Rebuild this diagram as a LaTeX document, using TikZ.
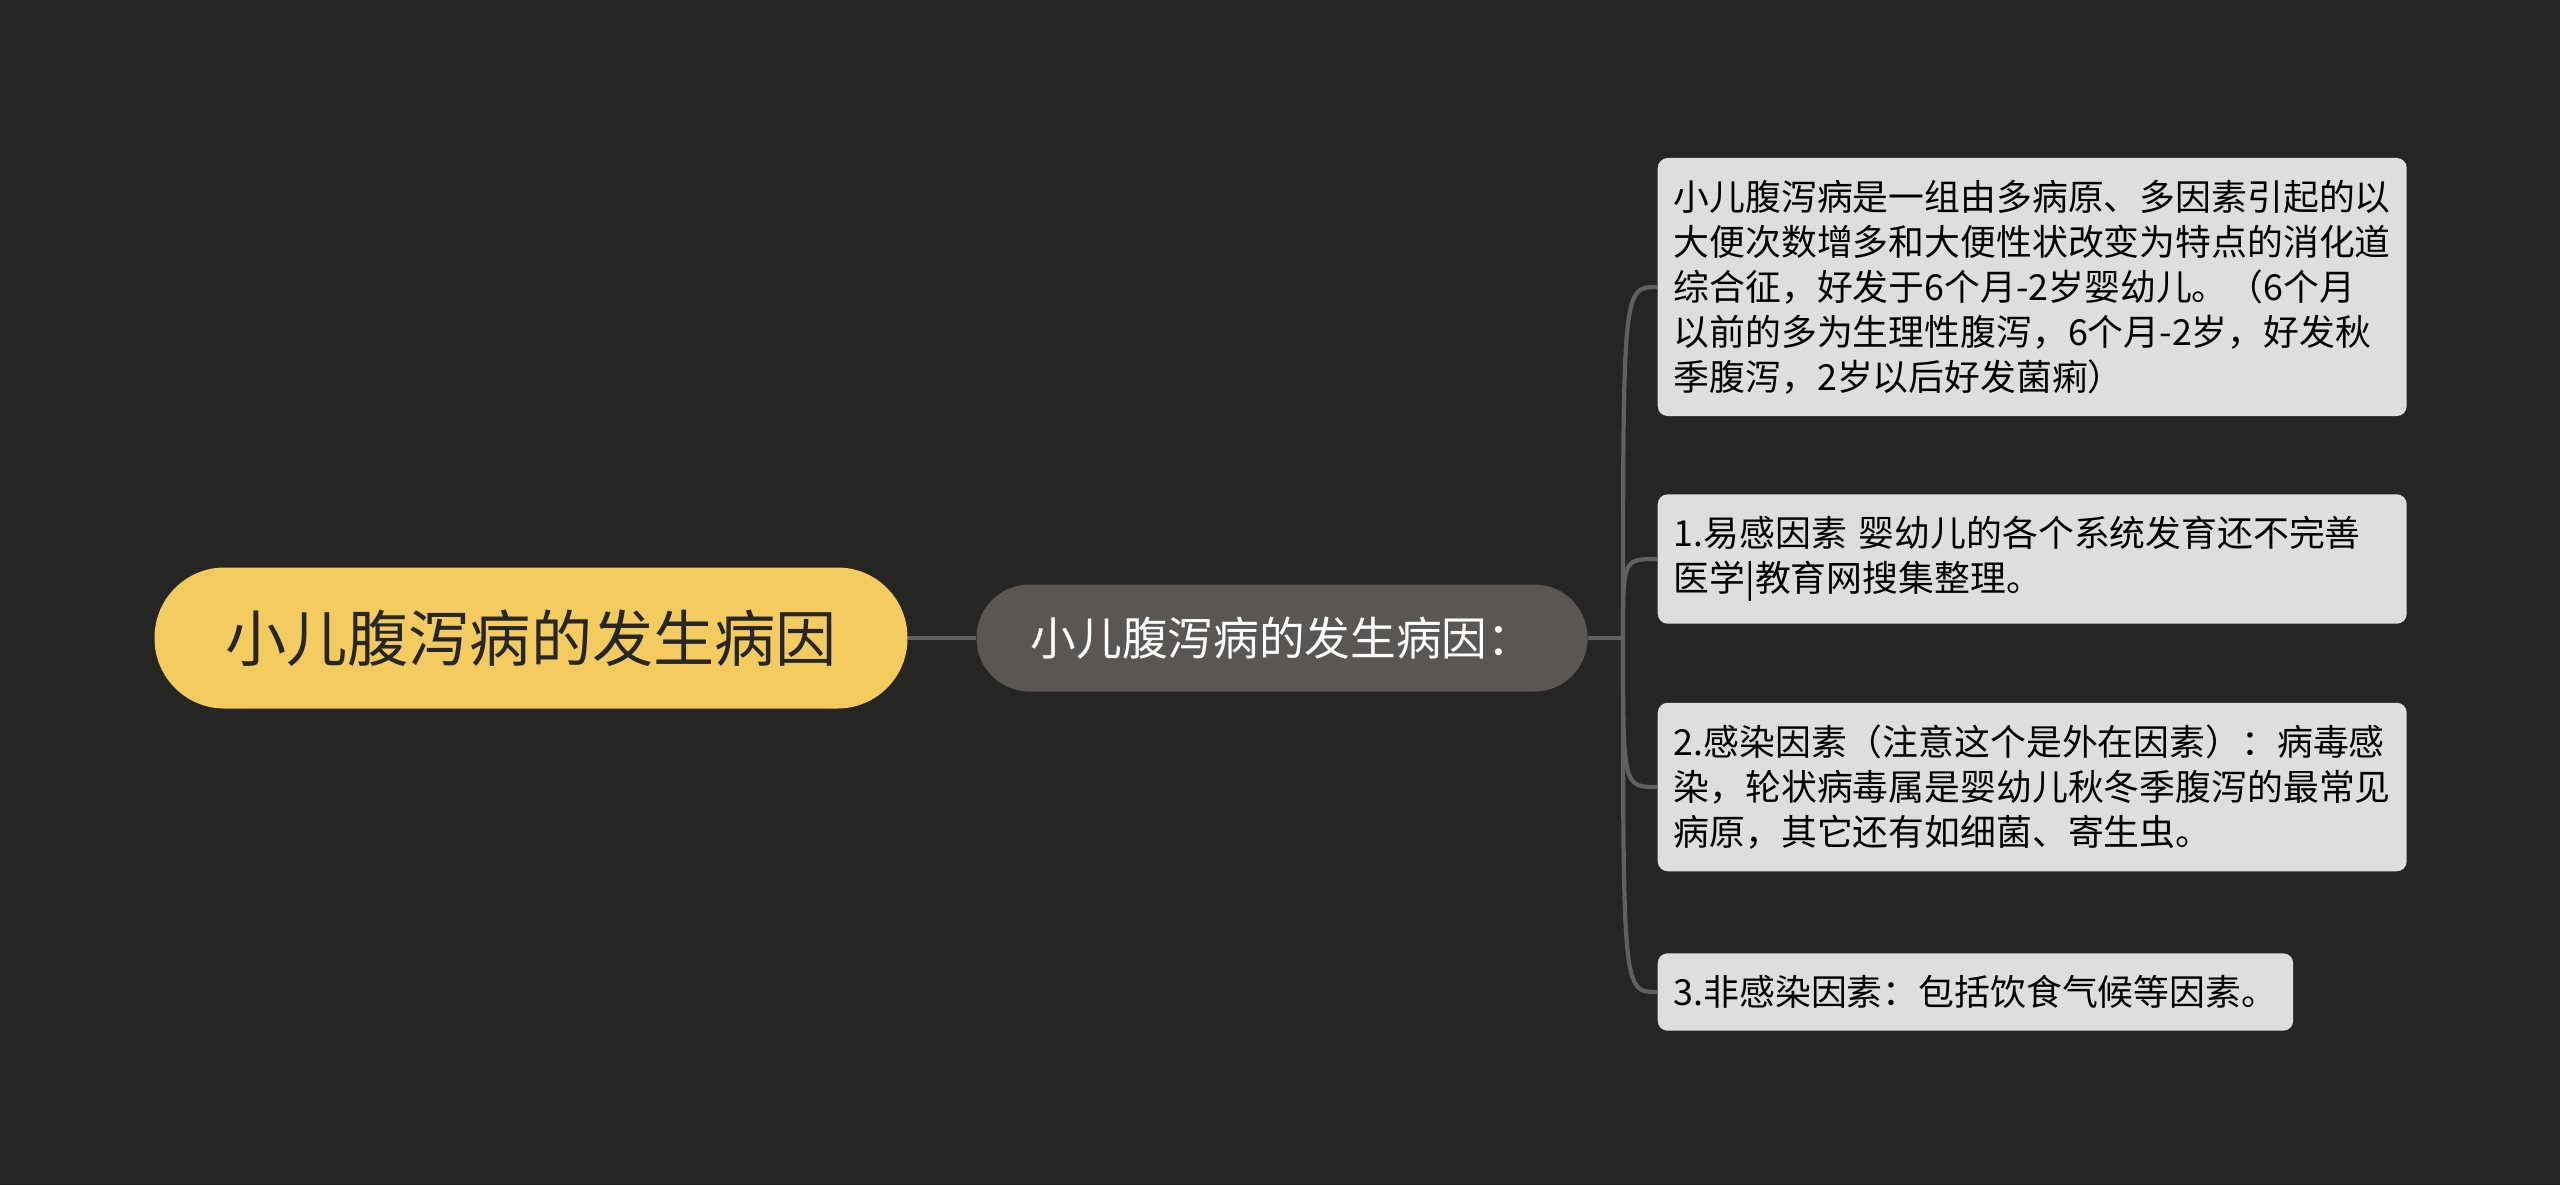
\documentclass[tikz,border=0pt]{standalone}
\usepackage{fontspec}
\setmainfont{Noto Sans CJK SC}
\usepackage{tikz}
\usetikzlibrary{calc}
\definecolor{bgdark}{RGB}{37,37,35}
\definecolor{rootyellow}{RGB}{244,203,94}
\definecolor{midgray}{RGB}{90,86,84}
\definecolor{leafgray}{RGB}{222,222,220}
\definecolor{linegray}{RGB}{98,96,94}
\tikzstyle{rootnode}=[fill=rootyellow,rounded corners=0.7cm,minimum width=7.53cm,minimum height=1.41cm,inner sep=0pt,text=black!85,font=\fontsize{17.4}{20}\selectfont]
\tikzstyle{midnode}=[fill=midgray,rounded corners=0.53cm,minimum width=6.11cm,minimum height=1.07cm,inner sep=0pt,text=white,font=\fontsize{13}{16}\selectfont]
\tikzstyle{leaf}=[fill=leafgray,rounded corners=0.1cm,anchor=west,align=left,inner xsep=0.16cm,inner ysep=0.22cm,text=black,font=\fontsize{10.2}{12.8}\selectfont]
\tikzstyle{wideleaf}=[leaf,text width=7.17cm]
\tikzstyle{branch}=[draw,linegray,line width=1.2pt]

\begin{document}
\begin{tikzpicture}

    \fill[bgdark] (0,0) rectangle (25.6,-11.85);
    \useasboundingbox (0,0) rectangle (25.6,-11.85);

    \node[rootnode] (root) at (5.31,-6.38) {小儿腹泻病的发生病因};
    \node[midnode] (mid) at (12.82,-6.38) {小儿腹泻病的发生病因：};
    \coordinate (hub) at (16.23,-6.38);

    % leaves
    \node[wideleaf] (a) at (16.57,-2.87) {小儿腹泻病是一组由多病原、多因素引起的以\\大便次数增多和大便性状改变为特点的消化道\\综合征，好发于6个月-2岁婴幼儿。（6个月\\以前的多为生理性腹泻，6个月-2岁，好发秋\\季腹泻，2岁以后好发菌痢）};
    \node[wideleaf] (b) at (16.57,-5.59) {1.易感因素 婴幼儿的各个系统发育还不完善\\医学|教育网搜集整理。};
    \node[wideleaf] (c) at (16.57,-7.87) {2.感染因素（注意这个是外在因素）：病毒感\\染，轮状病毒属是婴幼儿秋冬季腹泻的最常见\\病原，其它还有如细菌、寄生虫。};
    \node[leaf] (d) at (16.57,-9.92) {3.非感染因素：包括饮食气候等因素。};

    \path[branch] (root) -- (mid);
    \path[branch] (mid) -- (hub);
    \foreach \dest in {a,b,c,d}
        \path[branch] (hub) .. controls (hub |- \dest.west) .. (\dest.west);

\end{tikzpicture}
\end{document}
